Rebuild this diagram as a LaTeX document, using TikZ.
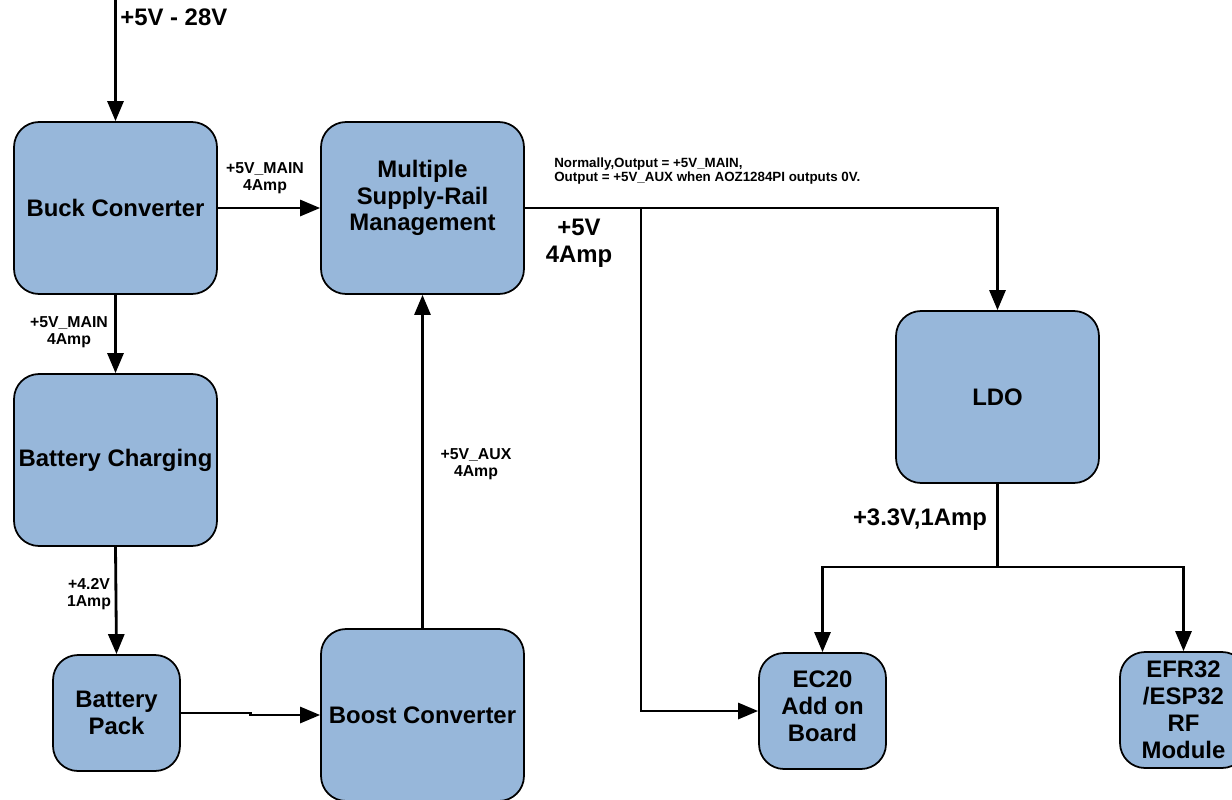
\documentclass[tikz,border=0pt]{standalone}
\usepackage{fontspec}
\setmainfont{Liberation Sans}
\usetikzlibrary{positioning,arrows.meta}
\definecolor{blockblue}{RGB}{151,183,218}

\begin{document}
\begin{tikzpicture}[x=0.02cm, y=-0.02cm,
    block/.style={rectangle, rounded corners=0.5cm, draw=black, line width=1pt, fill=blockblue,
        text centered, align=center, inner sep=0pt, minimum width=4.06cm, minimum height=3.44cm,
        font=\fontsize{13.6}{15.3}\selectfont\bfseries},
    smallblock/.style={block, minimum width=2.54cm, minimum height=2.32cm},
    lbl/.style={align=center, inner sep=0pt, font=\fontsize{9}{9.6}\selectfont\bfseries},
    biglbl/.style={align=center, inner sep=0pt, font=\fontsize{13.6}{15.3}\selectfont\bfseries},
    note/.style={align=left, inner sep=0pt, font=\fontsize{7.6}{8.4}\selectfont\bfseries},
    pwr/.style={line width=1.6pt, -{Triangle[length=4mm,width=3.2mm]}},
    wire/.style={line width=1.6pt}
]
\useasboundingbox (0,0) rectangle (1232,799);

\node [block] (buck) at (115.5,208) {Buck Converter};
\node [block] (msrm) at (422.5,208) {Multiple\\Supply-Rail\\Management\\[-1pt]\mbox{}};
\node [block] (chg) at (115.5,460) {Battery Charging};
\node [smallblock] (pack) at (116.5,713) {Battery\\Pack};
\node [block] (boost) at (422.5,715) {Boost Converter};
\node [block] (ldo) at (997.5,397) {LDO};
\node [smallblock] (ec20) at (822.5,711) {EC20\\Add on\\Board\\[-10pt]\mbox{}};
\node [smallblock] (efr) at (1183.5,710) {EFR32\\/ESP32\\RF\\Module};

\coordinate (in) at (115.5,0);
\coordinate (split) at (641,208);
\coordinate (fork) at (997.5,567);

\draw [pwr] (in) -- (buck.north);
\draw [pwr] (buck) -- (msrm);
\draw [pwr] (buck.south) -- (chg.north);
\draw [pwr] (chg.south) -- (pack.north);
\draw [pwr] (pack.east) -- ++(70,0) |- (boost.west);
\draw [pwr] (boost.north) -- (msrm.south);
\draw [wire] (msrm.east) -- (split);
\draw [pwr] (split) -| (ldo.north);
\draw [pwr] (split) |- (ec20.west);
\draw [wire] (ldo.south) -- (fork);
\draw [pwr] (fork) -| (ec20.north);
\draw [pwr] (fork) -| (efr.north);

\node [biglbl, anchor=west] (vin) at (120,17) {+5V - 28V};
\node [lbl] (mainlbl) at (265,178) {+5V\_MAIN\\4Amp};
\node [lbl] (chglbl) at (69,332) {+5V\_MAIN\\4Amp};
\node [lbl] (packlbl) at (89,594) {+4.2V\\1Amp};
\node [lbl] (auxlbl) at (476,464) {+5V\_AUX\\4Amp};
\node [biglbl] (outlbl) at (579,243) {+5V\\4Amp};
\node [note, anchor=west] (outnote) at (554,171) {Normally,Output = +5V\_MAIN,\\Output = +5V\_AUX when AOZ1284PI outputs 0V.};
\node [biglbl] (ldolbl) at (920,520) {+3.3V,1Amp};

\end{tikzpicture}
\end{document}
